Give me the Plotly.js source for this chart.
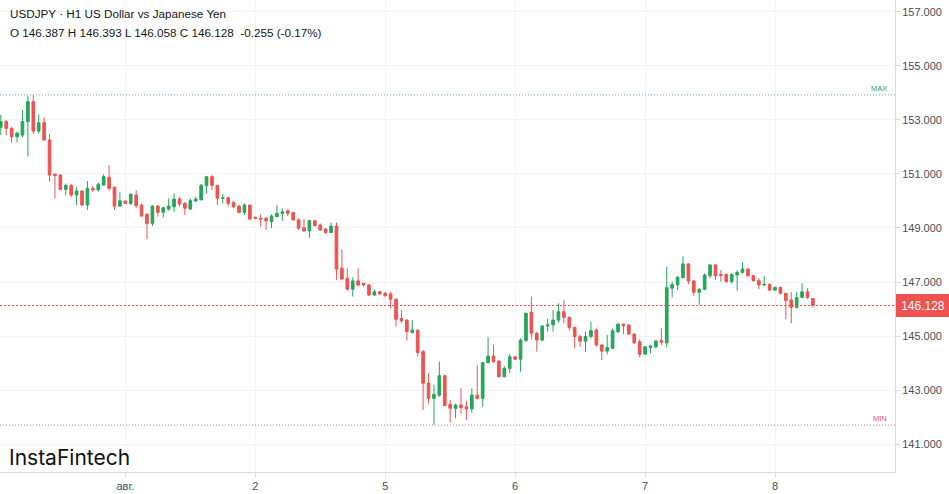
<!DOCTYPE html>
<html>
<head>
<meta charset="utf-8">
<script src="https://cdn.plot.ly/plotly-3.0.1.min.js"></script>
<style>html,body{margin:0;padding:0;background:#fff;}#chart{width:949px;height:494px;}</style>
</head>
<body>
<div id="chart"></div>
<script>
// Hourly candles (H1), USDJPY, index 0 = first visible hour
const openP = [
152.73,152.94,152.69,152.38,152.44,152.94,153.68,152.59,152.91,152.26,
150.99,150.96,150.43,150.58,150.22,150.37,149.85,150.47,150.41,150.59,
150.88,150.51,149.81,150.00,149.91,150.22,149.85,149.51,149.17,149.81,
149.58,149.70,149.79,150.07,149.91,149.70,150.00,150.04,150.56,150.90,
150.58,150.10,150.12,149.94,149.81,149.58,149.85,149.40,149.36,149.36,
149.23,149.42,149.54,149.64,149.57,149.30,149.01,148.89,149.27,149.11,
148.96,148.83,149.07,147.51,147.14,146.73,147.04,146.95,146.89,146.52,
146.64,146.58,146.56,146.36,145.65,145.59,145.12,145.22,144.42,143.25,
142.69,142.81,143.53,142.47,142.32,142.44,142.38,142.30,142.81,142.69,
144.01,144.26,144.07,143.49,143.80,144.23,144.14,144.83,145.88,145.10,
144.85,145.37,145.41,145.59,145.90,145.69,145.32,144.98,144.81,144.98,
145.22,144.67,144.44,144.54,145.16,145.44,145.41,145.07,144.79,144.33,
144.58,144.60,144.83,144.75,146.77,146.89,147.16,147.67,147.04,146.62,
146.73,147.23,147.63,147.28,147.28,147.01,147.26,147.35,147.48,147.23,
147.05,146.89,146.91,146.70,146.80,146.58,146.33,146.06,146.43,146.64,
146.387
];
const highP = [
153.19,153.00,152.75,152.57,153.37,153.89,153.93,153.21,153.10,152.48,
151.02,150.99,150.65,150.63,150.53,150.40,150.74,150.56,150.68,151.00,
151.32,150.53,150.32,150.01,150.28,150.40,149.91,149.54,149.85,149.85,
149.79,150.10,150.28,150.16,149.97,150.10,150.16,150.63,150.93,150.96,
150.58,150.26,150.16,150.00,149.85,149.91,149.85,149.42,149.51,149.42,
149.51,149.85,149.73,149.69,149.60,149.36,149.33,149.30,149.30,149.17,
148.99,149.20,149.20,148.21,147.51,147.17,147.51,146.97,146.93,146.73,
146.67,146.64,146.64,146.40,145.96,145.62,145.59,145.22,144.48,143.62,
143.19,144.05,143.56,142.63,142.50,143.06,142.60,143.06,143.93,144.05,
144.95,144.67,144.11,143.89,144.33,144.26,144.91,145.86,146.46,145.16,
145.41,145.65,145.96,146.21,146.33,145.72,145.35,145.04,145.16,145.53,
145.28,144.69,145.04,145.28,145.46,145.46,145.44,145.10,144.88,144.63,
144.67,144.85,145.28,147.57,147.01,147.22,147.96,147.69,147.07,146.77,
147.32,147.67,147.67,147.44,147.32,147.32,147.44,147.73,147.51,147.26,
147.14,147.22,146.95,146.83,146.83,146.60,146.62,146.64,146.95,146.77,
146.393
];
const lowP = [
152.44,152.44,152.16,152.17,152.36,151.64,152.48,152.51,152.24,150.72,
150.10,150.41,150.22,150.14,149.85,149.83,149.67,150.32,150.35,150.56,
150.37,149.67,149.79,149.89,149.85,149.73,149.42,148.58,149.07,149.42,
149.39,149.64,149.60,149.79,149.48,149.67,149.97,150.04,150.28,150.41,
149.85,149.91,149.79,149.73,149.54,149.48,149.30,149.33,149.05,148.93,
148.99,149.42,149.27,149.44,149.27,148.93,148.86,148.64,149.05,148.89,
148.78,148.83,147.07,147.07,146.68,146.46,146.83,146.83,146.48,146.48,
146.52,146.46,146.02,145.35,145.47,144.83,145.10,144.23,142.26,142.50,
141.70,142.75,142.41,141.79,141.95,142.14,141.89,142.16,142.65,142.38,
143.99,144.01,143.47,143.47,143.64,144.11,143.68,144.79,144.88,144.42,
144.80,145.16,145.16,145.50,145.47,145.22,144.54,144.60,144.42,144.91,
144.60,144.11,144.32,144.54,145.10,145.07,145.04,144.70,144.21,144.30,
144.36,144.54,144.67,144.58,146.43,146.70,147.14,146.91,146.49,146.15,
146.70,147.14,147.07,147.01,146.99,146.95,146.68,147.32,147.20,147.01,
146.73,146.85,146.67,146.68,146.54,145.62,145.47,146.02,146.40,146.37,
146.058
];
const closeP = [
152.94,152.69,152.38,152.51,152.94,153.68,152.59,152.90,152.26,150.96,
150.94,150.43,150.58,150.22,150.37,149.85,150.47,150.41,150.62,150.90,
150.47,149.81,150.01,149.91,150.25,149.83,149.44,149.17,149.81,149.58,
149.75,149.81,150.07,149.89,149.73,150.01,150.07,150.58,150.90,150.58,
150.10,150.12,149.91,149.79,149.58,149.85,149.33,149.36,149.33,149.26,
149.44,149.54,149.60,149.54,149.30,148.99,148.89,149.27,149.09,148.93,
148.83,149.07,147.48,147.11,146.73,147.04,146.89,146.89,146.52,146.64,
146.56,146.49,146.36,145.62,145.56,145.16,145.22,144.39,143.25,142.69,
142.84,143.53,142.42,142.32,142.44,142.35,142.30,142.81,142.69,144.01,
144.26,144.05,143.49,143.80,144.23,144.14,144.85,145.84,145.10,144.85,
145.37,145.41,145.59,145.90,145.69,145.32,144.98,144.81,144.98,145.20,
144.67,144.44,144.57,145.19,145.44,145.38,145.07,144.75,144.32,144.60,
144.63,144.81,144.77,146.79,146.91,147.17,147.67,147.04,146.62,146.73,
147.26,147.63,147.23,147.25,147.01,147.28,147.35,147.48,147.23,147.05,
146.89,146.91,146.70,146.80,146.58,146.31,146.06,146.43,146.64,146.43,
146.128
];
// Day labels and the candle index where each day starts
const dayLabels = ['авг.', '2', '5', '6', '7', '8'];
const dayStart = [23, 47, 71, 95, 119, 143];
const yTicks = [141, 143, 145, 147, 149, 151, 153, 155, 157];

const titleLine1 = 'USDJPY · H1 US Dollar vs Japanese Yen';
const titleLine2 = 'O 146.387 H 146.393 L 146.058 C 146.128 &nbsp;-0.255 (-0.17%)';

const UP = '#26a65b', DOWN = '#ef5350';
const xs = openP.map((_, i) => i);
const maxHigh = Math.max(...highP);
const minLow = Math.min(...lowP);
const last = closeP[closeP.length - 1];

const trace = {
  type: 'candlestick', x: xs, open: openP, high: highP, low: lowP, close: closeP,
  increasing: {line: {color: UP, width: 1}, fillcolor: UP},
  decreasing: {line: {color: DOWN, width: 1}, fillcolor: DOWN},
  whiskerwidth: 0, hoverinfo: 'none', showlegend: false
};

const FONT = 'Liberation Sans, Arial, sans-serif';
const layout = {
  width: 949, height: 494,
  margin: {l: 0, r: 54, t: 0, b: 22},
  paper_bgcolor: '#ffffff', plot_bgcolor: '#ffffff',
  showlegend: false,
  xaxis: {
    range: [-0.15, 165.16], rangeslider: {visible: false},
    tickmode: 'array', tickvals: dayStart, ticktext: dayLabels,
    showgrid: true, gridcolor: '#f0f3fa', gridwidth: 1, zeroline: false,
    showline: true, linecolor: '#d6dae2', linewidth: 1,
    ticks: 'outside', ticklen: 4, tickcolor: '#d6dae2',
    tickfont: {family: FONT, size: 11, color: '#4a4d55'}, fixedrange: true
  },
  yaxis: {
    side: 'right', range: [139.963, 157.444],
    tickmode: 'array', tickvals: yTicks, ticktext: yTicks.map(v => v.toFixed(3)),
    showgrid: true, gridcolor: '#f0f3fa', gridwidth: 1, zeroline: false,
    showline: true, linecolor: '#d6dae2', linewidth: 1,
    ticks: 'outside', ticklen: 4, tickcolor: '#d6dae2',
    tickfont: {family: FONT, size: 11, color: '#4a4d55'}, fixedrange: true
  },
  shapes: [
    {type: 'line', xref: 'paper', x0: 0, x1: 1, yref: 'y', y0: maxHigh, y1: maxHigh,
     line: {color: 'rgba(38,166,91,0.75)', width: 1, dash: '1px,2px'}},
    {type: 'line', xref: 'paper', x0: 0, x1: 1, yref: 'y', y0: minLow, y1: minLow,
     line: {color: 'rgba(239,83,80,0.8)', width: 1, dash: '1px,2px'}},
    {type: 'line', xref: 'paper', x0: 0, x1: 1, yref: 'y', y0: last, y1: last,
     line: {color: 'rgb(239,83,80)', width: 1, dash: '2px,2px'}}
  ],
  annotations: [
    {xref: 'paper', yref: 'paper', x: 0, y: 1, xanchor: 'left', yanchor: 'middle',
     xshift: 8, yshift: -13, showarrow: false, text: titleLine1,
     font: {family: FONT, size: 11.7, color: '#131722'}},
    {xref: 'paper', yref: 'paper', x: 0, y: 1, xanchor: 'left', yanchor: 'middle',
     xshift: 8, yshift: -32, showarrow: false, text: titleLine2,
     font: {family: FONT, size: 11.7, color: '#131722'}},
    {xref: 'paper', yref: 'paper', x: 0, y: 0, xanchor: 'left', yanchor: 'middle',
     xshift: 7, yshift: 15, showarrow: false, text: 'InstaFintech',
     font: {family: 'Inter, Lato, sans-serif', size: 21, color: '#111111'}},
    {xref: 'paper', yref: 'y', x: 1, y: maxHigh, xanchor: 'right', yanchor: 'bottom',
     xshift: -6, yshift: 0, showarrow: false, text: 'MAX',
     font: {family: FONT, size: 7.5, color: '#26a65b'}},
    {xref: 'paper', yref: 'y', x: 1, y: minLow, xanchor: 'right', yanchor: 'bottom',
     xshift: -6, yshift: 0, showarrow: false, text: 'MIN',
     font: {family: FONT, size: 7.5, color: '#ef5350'}},
    {xref: 'paper', yref: 'y', x: 1, y: last, xanchor: 'left', yanchor: 'middle',
     xshift: 1, showarrow: false, text: last.toFixed(3),
     bgcolor: DOWN, bordercolor: DOWN, borderpad: 3, width: 46, height: 15,
     font: {family: FONT, size: 12, color: '#ffffff'}}
  ]
};

Plotly.newPlot('chart', [trace], layout, {staticPlot: true, displayModeBar: false});
</script>
</body>
</html>
